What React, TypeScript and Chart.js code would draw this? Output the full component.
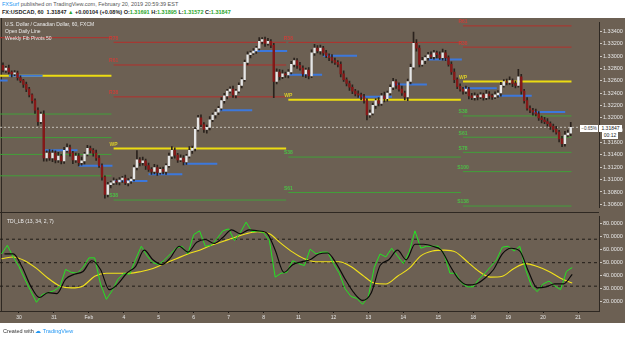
import { useEffect, useRef } from "react";
import { Chart, registerables } from "chart.js";

Chart.register(...registerables);

const FONT = "'Liberation Sans', Arial, sans-serif";
const PANEL_BG = "#6c6053";
const DARK_LINE = "#2e2822";

// x axis: trading-hour index, 0 = Jan 30 00:00 EST, weekends removed
const X_MIN = -13.05;
const X_MAX = 398.4;

const dayTickIndex = [0, 24, 48, 72, 96, 120, 144, 168, 192, 216, 240, 264, 288, 312, 336, 360, 384];
const dayTickLabels = ["30", "31", "Feb", "4", "5", "6", "7", "8", "11", "12", "13", "14", "15", "18", "19", "20", "21"];

const priceTicks = [1.306, 1.308, 1.31, 1.312, 1.314, 1.316, 1.318, 1.32, 1.322, 1.324, 1.326, 1.328, 1.33, 1.332, 1.334];
const PRICE_MIN = 1.305458;
const PRICE_MAX = 1.33547;
const PIP = 0.0001;

// USDCAD 2-hour candles, first one at Jan 29 13:00 EST
const candleStart = -11;
const candleStep = 2;
const firstOpen = 1.32851;
const closes = [
  1.32774, 1.32804, 1.32743, 1.32712, 1.32727, 1.3265, 1.32603, 1.32541, 1.32464, 1.32371,
  1.32278, 1.32124, 1.31938, 1.32062, 1.3135, 1.31428, 1.3135, 1.31428, 1.31319, 1.31381,
  1.31304, 1.31474, 1.3152, 1.31428, 1.31319, 1.31381, 1.31273, 1.31304, 1.31412, 1.31505,
  1.31474, 1.31428, 1.3135, 1.31227, 1.31041, 1.30762, 1.30917, 1.30948, 1.30979, 1.30963,
  1.30994, 1.31025, 1.30948, 1.30979, 1.3101, 1.31196, 1.31319, 1.31273, 1.31304, 1.31227,
  1.31165, 1.31134, 1.31196, 1.31118, 1.31165, 1.31134, 1.31227, 1.31381, 1.31474, 1.31397,
  1.31319, 1.3135, 1.31288, 1.31381, 1.31474, 1.31505, 1.31814, 1.32, 1.31892, 1.31814,
  1.31845, 1.31969, 1.32046, 1.32093, 1.32155, 1.32278, 1.32356, 1.32433, 1.32464, 1.32371,
  1.32433, 1.32526, 1.32619, 1.32897, 1.33021, 1.33052, 1.33083, 1.33129, 1.33238, 1.33269,
  1.33207, 1.33238, 1.33176, 1.32588, 1.32743, 1.32665, 1.32712, 1.32696, 1.32743, 1.32866,
  1.32928, 1.32851, 1.32804, 1.32712, 1.32774, 1.32681, 1.33052, 1.33129, 1.33083, 1.33129,
  1.33052, 1.33006, 1.32975, 1.32928, 1.32897, 1.32866, 1.32712, 1.32619, 1.32557, 1.32495,
  1.32433, 1.32387, 1.32371, 1.3234, 1.32278, 1.32046, 1.32077, 1.32201, 1.32278, 1.32232,
  1.32356, 1.32309, 1.32402, 1.32495, 1.32588, 1.32526, 1.32464, 1.32402, 1.3234, 1.32588,
  1.3282, 1.33207, 1.33129, 1.32866, 1.32928, 1.32975, 1.33021, 1.3299, 1.33052, 1.33021,
  1.32975, 1.33052, 1.32975, 1.32866, 1.32743, 1.32619, 1.32511, 1.32464, 1.32433, 1.32464,
  1.32356, 1.32325, 1.32356, 1.3234, 1.32371, 1.32325, 1.32387, 1.32356, 1.3234, 1.32371,
  1.32402, 1.32526, 1.32588, 1.32572, 1.32603, 1.32557, 1.32526, 1.32665, 1.32433, 1.32278,
  1.32155, 1.32124, 1.32093, 1.32062, 1.32, 1.31969, 1.31938, 1.31907, 1.31861, 1.31814,
  1.31768, 1.3166, 1.31582, 1.31722, 1.31752, 1.31847,
];
const upperWickPips = [
  4, 3, 5, 2, 4, 3, 3, 2, 4, 3, 2, 3, 4, 3, 5, 4, 6, 5, 4, 6,
  3, 5, 6, 4, 3, 5, 4, 6, 3, 5, 4, 3, 5, 4, 3, 2, 4, 3, 5, 3,
  4, 3, 5, 4, 3, 4, 15, 4, 6, 3, 4, 3, 5, 4, 3, 4, 3, 5, 6, 4,
  3, 5, 4, 3, 6, 4, 3, 4, 5, 3, 4, 5, 3, 4, 3, 5, 4, 3, 4, 5,
  3, 4, 3, 4, 5, 3, 4, 3, 6, 3, 4, 5, 3, 3, 5, 4, 6, 3, 4, 5,
  4, 3, 5, 4, 3, 4, 5, 6, 4, 5, 3, 4, 3, 5, 4, 3, 4, 5, 3, 4,
  4, 3, 5, 3, 4, 3, 5, 4, 3, 5, 4, 6, 3, 4, 5, 3, 4, 5, 3, 4,
  5, 18, 6, 4, 5, 3, 4, 5, 4, 3, 5, 6, 4, 3, 4, 5, 3, 4, 3, 5,
  3, 4, 5, 3, 4, 3, 6, 4, 3, 5, 4, 5, 3, 4, 6, 3, 4, 12, 4, 3,
  5, 4, 3, 5, 4, 3, 4, 5, 3, 4, 5, 3, 4, 6, 5, 8,
];
const lowerWickPips = [
  3, 4, 3, 5, 3, 4, 3, 5, 4, 3, 4, 5, 6, 3, 5, 5, 4, 6, 5, 4,
  5, 4, 3, 5, 6, 4, 5, 4, 5, 3, 4, 5, 4, 3, 5, 6, 4, 5, 3, 4,
  5, 4, 3, 5, 4, 3, 4, 5, 4, 6, 3, 5, 4, 5, 3, 4, 5, 3, 4, 5,
  4, 3, 5, 4, 3, 5, 4, 3, 4, 5, 6, 4, 3, 5, 4, 3, 4, 5, 3, 4,
  5, 3, 4, 3, 4, 5, 3, 4, 3, 4, 5, 3, 4, 26, 4, 5, 3, 4, 5, 3,
  4, 5, 3, 4, 6, 5, 3, 4, 3, 5, 4, 3, 5, 4, 3, 4, 5, 3, 4, 5,
  4, 3, 4, 5, 4, 8, 4, 3, 5, 4, 3, 5, 4, 3, 4, 5, 3, 4, 5, 6,
  4, 3, 5, 4, 3, 5, 4, 3, 4, 5, 3, 4, 5, 3, 4, 5, 4, 3, 5, 4,
  5, 3, 4, 5, 3, 4, 3, 5, 4, 3, 4, 5, 3, 4, 3, 5, 4, 3, 5, 4,
  3, 4, 5, 3, 4, 5, 3, 4, 5, 4, 3, 5, 5, 4, 3, 4,
];
const lastPrice = 1.31847;

// Open Daily Line: session opens at 17:00 EST
const dayOpenStart = -31;
const dayLength = 24;
const dayOpenEnd = 376;
const dailyOpens = [
  1.32603, 1.32681, 1.31474, 1.31226, 1.30979, 1.31087, 1.31257, 1.32124, 1.33083,
  1.32696, 1.33006, 1.3234, 1.32541, 1.32944, 1.3248, 1.32356, 1.32093,
];

// Weekly Fib Pivots
const weekStarts = [-14, 65, 185, 305];
const weekEnds = [65, 185, 305, 381];
const weekPivots = [1.3268, 1.31505, 1.32294, 1.32588];
const weekRanges = [0.01618, 0.02186, 0.0243, 0.01458];
const fibRatios = [1.382, 1.0, 0.786, 0.618, 0.382, 0, -0.382, -0.618, -0.786, -1.0, -1.382];
const fibNames = ["R138", "R100", "R78", "R61", "R38", "WP", "S38", "S61", "S78", "S100", "S138"];

// TDI_LB (13, 34, 2, 7)
const TDI_MIN = 12.96;
const TDI_MAX = 85.56;
const tdiTicks = [20, 30, 40, 50, 60, 70, 80];
const tdiLevels = [68, 50, 32];
const rsiLineStart = -12;
const rsiLineStep = 4;
const rsiPriceLine = [
  56.7, 63.3, 54.4, 47.0, 37.4, 28.5, 19.6, 25.6, 27.0, 28.5,
  31.5, 44.8, 42.6, 41.9, 46.3, 53.7, 53.7, 33.7, 21.9, 28.5,
  37.4, 41.9, 41.1, 52.2, 62.6, 55.2, 50.0, 48.5, 52.2, 56.7,
  61.1, 62.6, 56.7, 71.5, 74.4, 62.6, 63.3, 68.5, 74.4, 75.9,
  67.0, 73.0, 81.1, 73.7, 74.4, 73.0, 67.0, 38.9, 41.9, 42.6,
  51.5, 49.3, 47.8, 60.4, 56.7, 58.1, 58.1, 49.3, 41.9, 30.0,
  24.1, 22.6, 18.1, 24.1, 46.3, 56.7, 54.4, 61.1, 55.2, 49.3,
  58.1, 74.4, 61.1, 62.6, 62.6, 62.6, 56.7, 41.9, 41.9, 34.4,
  31.5, 31.5, 37.4, 41.9, 47.0, 52.2, 61.9, 62.6, 58.9, 62.6,
  44.8, 32.2, 27.8, 33.7, 35.9, 32.2, 29.3, 43.3, 46.3,
];
const signalStart = -10;
const signalStep = 6;
const tradeSignal = [
  56.7, 56.7, 47.0, 32.2, 23.3, 27.0, 26.3, 37.4, 41.1, 43.3,
  51.5, 44.8, 29.3, 33.7, 41.9, 47.0, 59.6, 52.2, 48.5, 53.7,
  62.6, 58.1, 65.6, 67.8, 64.8, 69.3, 75.2, 72.2, 75.2, 74.4,
  73.0, 59.6, 42.6, 48.5, 50.7, 52.2, 56.7, 57.4, 49.3, 37.4,
  27.0, 21.1, 27.0, 47.8, 52.2, 59.6, 52.2, 64.1, 64.1, 62.6,
  59.6, 47.8, 37.4, 33.0, 33.7, 38.1, 44.8, 56.7, 61.1, 58.9,
  43.3, 30.7, 31.5, 33.7, 33.7, 41.1,
];
const baseStart = -12;
const baseStep = 8;
const marketBase = [
  53.0, 54.4, 51.5, 45.6, 38.1, 32.2, 30.7, 32.2, 39.6, 41.9,
  41.9, 41.9, 43.3, 45.6, 49.3, 53.0, 56.7, 59.6, 63.3, 66.3,
  69.3, 72.2, 73.7, 72.2, 64.8, 58.1, 53.0, 50.7, 50.7, 50.7,
  47.0, 40.4, 34.4, 33.7, 39.6, 45.6, 55.2, 58.9, 59.6, 58.1,
  50.7, 43.3, 38.9, 39.6, 45.6, 49.3, 47.0, 43.3, 38.1, 34.4,
];

const segment = (x0: number, x1: number, y: number, color: string, width: number, order: number, dash: number[] = []) => ({
  type: "line",
  data: [{ x: x0, y }, { x: x1, y }],
  borderColor: color,
  borderWidth: width,
  borderDash: dash,
  pointRadius: 0,
  fill: false,
  order,
});

const levelColor = (r: number) => (r > 0 ? "#b3302c" : r < 0 ? "#42a03a" : "#ecdc12");
const labelColor = (r: number) => (r > 0 ? "#c8403a" : r < 0 ? "#4cc046" : "#d9cc2a");

const pivotLabelPlugin = {
  id: "pivotLabels",
  afterDatasetsDraw(chart: any) {
    const { ctx, scales } = chart;
    const xs = scales.x;
    const ys = scales.y;
    ctx.save();
    ctx.font = `bold 5px ${FONT}`;
    ctx.textAlign = "center";
    ctx.textBaseline = "bottom";
    weekPivots.forEach((p, w) => {
      if (weekStarts[w] < X_MIN) return;
      fibRatios.forEach((r, j) => {
        const lvl = p + r * weekRanges[w];
        if (lvl < PRICE_MIN || lvl > PRICE_MAX) return;
        ctx.fillStyle = labelColor(r);
        ctx.fillText(fibNames[j], xs.getPixelForValue(weekStarts[w]), ys.getPixelForValue(lvl) - 1.5);
      });
    });
    ctx.restore();
  },
};

function priceConfig(): any {
  const datasets: any[] = [];

  weekPivots.forEach((p, w) => {
    fibRatios.forEach((r) => {
      const lvl = p + r * weekRanges[w];
      if (lvl < PRICE_MIN || lvl > PRICE_MAX) return;
      datasets.push(segment(weekStarts[w], weekEnds[w] - 1.5, lvl, levelColor(r), r === 0 ? 2 : 1, 9));
    });
  });

  dailyOpens.forEach((o, d) => {
    const s = dayOpenStart + d * dayLength;
    const e = Math.min(s + dayLength, dayOpenEnd);
    datasets.push(segment(s, e - 0.8, o, "#3c78dc", 2, 8));
  });

  datasets.push(segment(X_MIN, X_MAX, lastPrice, "#c4c0ba", 1, 7, [2, 2]));

  const bars = closes.map((c, k) => {
    const o = k === 0 ? firstOpen : closes[k - 1];
    return {
      x: candleStart + k * candleStep,
      o,
      c,
      h: Math.max(o, c) + upperWickPips[k] * PIP,
      l: Math.min(o, c) - lowerWickPips[k] * PIP,
    };
  });

  datasets.push({
    type: "bar",
    data: bars.map((b) => ({ x: b.x, y: [b.l, b.h] })),
    backgroundColor: "#2a221d",
    barThickness: 1,
    grouped: false,
    order: 2,
  });
  datasets.push({
    type: "bar",
    data: bars.map((b) => ({ x: b.x, y: [b.o, b.c] })),
    backgroundColor: bars.map((b) => (b.c >= b.o ? "#e6e6e6" : "#861818")),
    barThickness: 1.7,
    minBarLength: 1,
    grouped: false,
    order: 1,
  });

  return {
    type: "bar",
    data: { datasets },
    options: {
      animation: false,
      responsive: false,
      devicePixelRatio: 1,
      events: [],
      layout: { padding: 0 },
      plugins: { legend: { display: false }, tooltip: { enabled: false } },
      scales: {
        x: { type: "linear", display: false, min: X_MIN, max: X_MAX, offset: false },
        y: {
          type: "linear",
          position: "right",
          min: PRICE_MIN,
          max: PRICE_MAX,
          afterFit: (s: any) => {
            s.width = 26;
          },
          afterBuildTicks: (s: any) => {
            s.ticks = priceTicks.map((v) => ({ value: v }));
          },
          ticks: {
            callback: (v: any) => Number(v).toFixed(5),
            color: "#e6e6e6",
            font: { size: 5.5, family: FONT },
            padding: 1,
          },
          grid: { drawOnChartArea: false, drawTicks: true, tickLength: 3, color: "#cfcac4" },
          border: { display: true, color: DARK_LINE },
        },
      },
    },
    plugins: [pivotLabelPlugin],
  };
}

function tdiConfig(): any {
  const series = (start: number, step: number, values: number[]) =>
    values.map((v, i) => ({ x: start + i * step, y: v }));
  const datasets: any[] = [
    {
      type: "line",
      data: series(signalStart, signalStep, tradeSignal),
      borderColor: "#0b0a09",
      borderWidth: 1.15,
      pointRadius: 0,
      cubicInterpolationMode: "monotone",
      order: 0,
    },
    {
      type: "line",
      data: series(rsiLineStart, rsiLineStep, rsiPriceLine),
      borderColor: "#22e622",
      borderWidth: 1,
      pointRadius: 0,
      tension: 0,
      order: 1,
    },
    {
      type: "line",
      data: series(baseStart, baseStep, marketBase),
      borderColor: "#f2e21a",
      borderWidth: 1.1,
      pointRadius: 0,
      cubicInterpolationMode: "monotone",
      order: 2,
    },
    ...tdiLevels.map((lv) => segment(X_MIN, X_MAX, lv, "#201b17", 1, 3, [3, 3])),
  ];

  return {
    type: "line",
    data: { datasets },
    options: {
      animation: false,
      responsive: false,
      devicePixelRatio: 1,
      events: [],
      layout: { padding: { top: 1, left: 0, right: 0, bottom: 0 } },
      plugins: { legend: { display: false }, tooltip: { enabled: false } },
      scales: {
        x: {
          type: "linear",
          min: X_MIN,
          max: X_MAX,
          offset: false,
          afterBuildTicks: (s: any) => {
            s.ticks = dayTickIndex.map((v) => ({ value: v }));
          },
          afterFit: (s: any) => {
            s.height = 12;
          },
          ticks: {
            callback: (_v: any, i: number) => dayTickLabels[i] ?? "",
            color: "#e6e6e6",
            font: { size: 5, family: FONT },
            maxRotation: 0,
            autoSkip: false,
            padding: 2,
          },
          grid: { drawOnChartArea: false, drawTicks: true, tickLength: 2, color: "#201b17" },
          border: { display: true, color: DARK_LINE },
        },
        y: {
          type: "linear",
          position: "right",
          min: TDI_MIN,
          max: TDI_MAX,
          afterFit: (s: any) => {
            s.width = 26;
          },
          afterBuildTicks: (s: any) => {
            s.ticks = tdiTicks.map((v) => ({ value: v }));
          },
          ticks: {
            callback: (v: any) => Number(v).toFixed(4),
            color: "#e6e6e6",
            font: { size: 5.5, family: FONT },
            padding: 1,
          },
          grid: { drawOnChartArea: false, drawTicks: true, tickLength: 3, color: "#cfcac4" },
          border: { display: true, color: DARK_LINE },
        },
      },
    },
  };
}

const tiny = (size: number, extra: any = {}) => ({
  position: "absolute" as const,
  fontFamily: FONT,
  fontSize: size,
  lineHeight: "7px",
  whiteSpace: "nowrap" as const,
  ...extra,
});

export default function App() {
  const priceRef = useRef<HTMLCanvasElement>(null);
  const tdiRef = useRef<HTMLCanvasElement>(null);

  useEffect(() => {
    document.body.style.margin = "0";
    const c1 = new Chart(priceRef.current as HTMLCanvasElement, priceConfig());
    const c2 = new Chart(tdiRef.current as HTMLCanvasElement, tdiConfig());
    return () => {
      c1.destroy();
      c2.destroy();
    };
  }, []);

  const green = { color: "#2aa52a" };

  return (
    <div style={{ position: "relative", width: 625, height: 338, background: "#ffffff", overflow: "hidden" }}>
      <div style={tiny(5.5, { left: 2, top: 1, color: "#555" })}>
        <span style={{ color: "#2196f3" }}>FXSurf</span> published on TradingView.com, February 20, 2019 20:59:39 EST
      </div>
      <div style={tiny(5.5, { left: 2, top: 9, color: "#222", fontWeight: "bold" })}>
        FX:USDCAD, 60&nbsp; 1.31847 <span style={green}>▲</span> +0.00104 (+0.08%) O:<span style={green}>1.31691</span> H:
        <span style={green}>1.31895</span> L:<span style={green}>1.31572</span> C:<span style={green}>1.31847</span>
      </div>

      <div style={{ position: "absolute", left: 0, top: 18, width: 625, height: 305, background: PANEL_BG }} />
      <div style={{ position: "absolute", left: 1, top: 18, width: 1, height: 293, background: DARK_LINE }} />
      <canvas ref={priceRef} width={625} height={194} style={{ position: "absolute", left: 0, top: 18 }} />
      <div style={{ position: "absolute", left: 0, top: 212, width: 599, height: 1, background: DARK_LINE }} />
      <canvas ref={tdiRef} width={625} height={111} style={{ position: "absolute", left: 0, top: 212 }} />

      <div style={tiny(5, { left: 5, top: 21, color: "#ececec" })}>U.S. Dollar / Canadian Dollar, 60, FXCM</div>
      <div style={tiny(5, { left: 5, top: 28, color: "#ececec" })}>Open Daily Line</div>
      <div style={tiny(5, { left: 5, top: 35, color: "#ececec" })}>Weekly Fib Pivots 50</div>
      <div style={tiny(5, { left: 7, top: 218, color: "#ececec" })}>TDI_LB (13, 34, 2, 7)</div>

      <div style={tiny(4.5, { left: 580, top: 125, width: 18, height: 7, background: "#fff", color: "#333", textAlign: "center" })}>
        −0.65%
      </div>
      <div style={tiny(5, { left: 599, top: 125, width: 23, height: 7, background: "#fff", color: "#222", textAlign: "center" })}>
        1.31847
      </div>
      <div style={tiny(5, { left: 602, top: 132, width: 16, height: 7, background: "#fff", color: "#222", textAlign: "center" })}>
        00:12
      </div>

      <div style={tiny(5.5, { left: 3, top: 327, color: "#333", lineHeight: "8px" })}>
        Created with <span style={{ color: "#2196f3" }}>☁ TradingView</span>
      </div>
    </div>
  );
}
